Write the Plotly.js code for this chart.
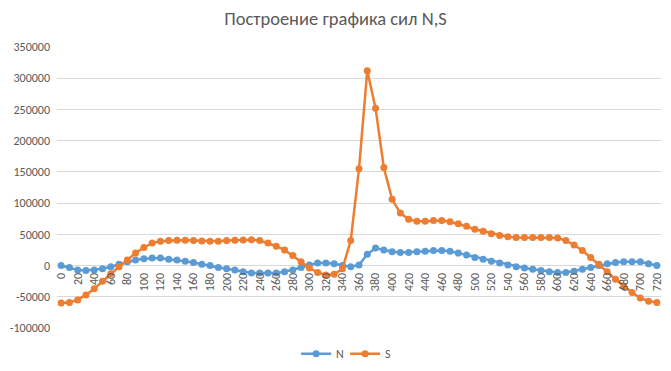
<!DOCTYPE html>
<html><head><meta charset="utf-8">
<script src="https://cdn.plot.ly/plotly-3.0.1.min.js"></script>
<style>html,body{margin:0;padding:0;background:#fff}#c{width:671px;height:371px}</style>
</head><body><div id="c"></div>
<script>
const categories = [];
for (let a = 0; a <= 720; a += 10) categories.push(String(a));
const xTickLabels = ["0","20","40","60","80","100","120","140","160","180","200","220","240","260","280","300","320","340","360","380","400","420","440","460","480","500","520","540","560","580","600","620","640","660","680","700","720"];
const yTickVals = [-100000,-50000,0,50000,100000,150000,200000,250000,300000,350000];
const yTickText = ["-100000","-50000","0","50000","100000","150000","200000","250000","300000","350000"];
const N = [0,-3000,-7000,-8000,-7000,-5000,-2000,2000,6000,9000,11000,12000,12000,10000,9000,7000,5000,2000,0,-3000,-5000,-7000,-10000,-12000,-12000,-12000,-12000,-10000,-7000,-3000,1000,4000,4000,3000,0,-2000,1000,18000,28000,25000,22000,21000,21000,22000,23000,24000,24000,23000,20000,17000,13000,10000,7000,4000,1000,-2000,-4000,-6000,-8000,-10000,-11000,-11000,-9000,-6000,-3000,0,3000,5000,6000,6000,6000,3000,0];
const S = [-60000,-59000,-55000,-47000,-37000,-25000,-13000,-2000,9000,20000,29000,36000,39000,40000,40500,40500,40000,39500,39000,39000,40000,40500,41000,41500,40000,36000,31000,25000,16000,6000,-4000,-11000,-15000,-14000,-5000,40000,155000,312000,252000,157000,106000,84000,74000,71000,71000,72000,72000,70000,67000,63000,58000,55000,51000,48000,46000,45000,45000,45000,45000,45000,44000,40000,33000,24000,13000,2000,-10000,-22000,-33000,-43000,-52000,-57000,-59000];

const font = "Calibri, Carlito, 'Liberation Sans', Arial, sans-serif";
const traces = [
  {x: categories, y: N, name: "N", type: "scatter", mode: "lines+markers",
   line: {color: "#5B9BD5", width: 2.5}, marker: {color: "#5B9BD5", size: 7}},
  {x: categories, y: S, name: "S", type: "scatter", mode: "lines+markers",
   line: {color: "#ED7D31", width: 2.5}, marker: {color: "#ED7D31", size: 7}}
];
const layout = {
  width: 671, height: 371,
  margin: {l: 57, r: 10, t: 47, b: 43, autoexpand: false},
  paper_bgcolor: "#fff", plot_bgcolor: "#fff",
  font: {family: font, color: "#595959", size: 12},
  title: {text: "Построение графика сил N,S", x: 0.5, xanchor: "center", y: 0.95, yanchor: "middle",
          font: {size: 18.5, color: "#595959", family: font}},
  xaxis: {type: "category", range: [-0.5, 72.5], anchor: "free", position: (0 + 100000) / 450000,
          tickvals: xTickLabels, ticktext: xTickLabels, tickangle: -90, automargin: false,
          tickfont: {size: 12, color: "#595959"}, showgrid: false, showline: false, zeroline: false,
          ticks: "", ticklabelstandoff: 4},
  yaxis: {range: [-100000, 350000], tickvals: yTickVals, ticktext: yTickText, automargin: false,
          gridcolor: "#D9D9D9", gridwidth: 1, zeroline: true, zerolinecolor: "#D9D9D9", zerolinewidth: 1,
          showline: false, ticks: "", ticklabelstandoff: 6, tickfont: {size: 12, color: "#595959"}},
  showlegend: true,
  legend: {orientation: "h", x: 0.477, xanchor: "center", y: -0.04, yanchor: "top",
           entrywidth: 4, entrywidthmode: "pixels", itemwidth: 30,
           font: {size: 12, color: "#595959"}, bgcolor: "rgba(0,0,0,0)"}
};
Plotly.newPlot("c", traces, layout, {displayModeBar: false, responsive: false});
</script>
</body></html>
